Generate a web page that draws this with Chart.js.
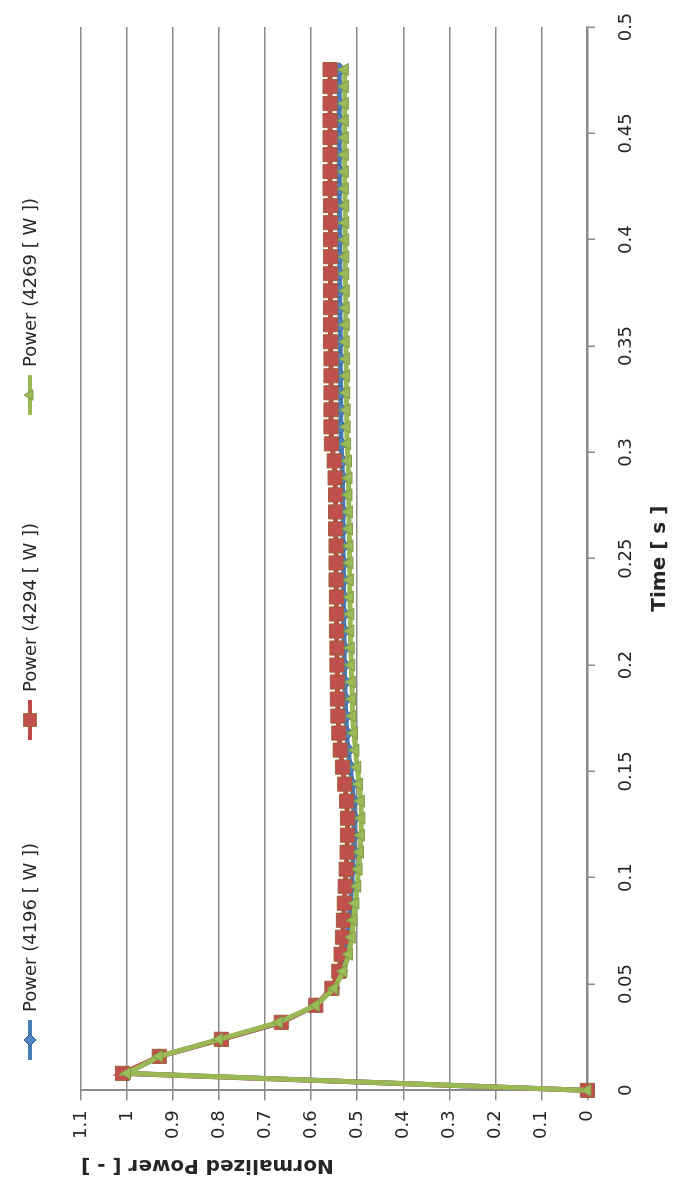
<!DOCTYPE html>
<html>
<head>
<meta charset="utf-8">
<script src="https://cdn.jsdelivr.net/npm/chart.js@4.4.1/dist/chart.umd.min.js"></script>
<style>
  html, body { margin: 0; padding: 0; background: #ffffff; overflow: hidden; }
  body { width: 680px; height: 1190px; position: relative; }
  #wrap {
    position: absolute; left: 0; top: 0;
    width: 1190px; height: 680px;
    transform-origin: 0 0;
    transform: translate(0px, 1190px) rotate(-90deg);
  }
  canvas { display: block; }
</style>
</head>
<body>
<div id="wrap"><canvas id="c" width="1190" height="680"></canvas></div>
<script>
// ---- data ----
const times = [0, 0.008, 0.016, 0.024, 0.032, 0.04, 0.048, 0.056, 0.064, 0.072,
  0.08, 0.088, 0.096, 0.104, 0.112, 0.12, 0.128, 0.136, 0.144, 0.152,
  0.16, 0.168, 0.176, 0.184, 0.192, 0.2, 0.208, 0.216, 0.224, 0.232,
  0.24, 0.248, 0.256, 0.264, 0.272, 0.28, 0.288, 0.296, 0.304, 0.312,
  0.32, 0.328, 0.336, 0.344, 0.352, 0.36, 0.368, 0.376, 0.384, 0.392,
  0.4, 0.408, 0.416, 0.424, 0.432, 0.44, 0.448, 0.456, 0.464, 0.472,
  0.48];

const power4196 = [0, 1.0, 0.93, 0.795, 0.665, 0.59, 0.553, 0.536, 0.527, 0.522,
  0.518, 0.515, 0.512, 0.51, 0.508, 0.507, 0.507, 0.508, 0.511, 0.515,
  0.52, 0.523, 0.525, 0.526, 0.527, 0.528, 0.528, 0.529, 0.529, 0.53,
  0.53, 0.53, 0.531, 0.531, 0.531, 0.532, 0.532, 0.533, 0.535, 0.536,
  0.536, 0.536, 0.537, 0.537, 0.537, 0.537, 0.538, 0.538, 0.538, 0.538,
  0.538, 0.538, 0.539, 0.539, 0.539, 0.539, 0.539, 0.539, 0.539, 0.539,
  0.539];

const power4294 = [0, 1.01, 0.93, 0.795, 0.665, 0.59, 0.555, 0.54, 0.535, 0.532,
  0.53, 0.528, 0.526, 0.524, 0.522, 0.521, 0.521, 0.523, 0.527, 0.532,
  0.537, 0.54, 0.542, 0.543, 0.543, 0.544, 0.544, 0.545, 0.545, 0.545,
  0.546, 0.546, 0.546, 0.547, 0.547, 0.547, 0.548, 0.55, 0.556, 0.557,
  0.557, 0.557, 0.557, 0.557, 0.558, 0.558, 0.558, 0.558, 0.558, 0.558,
  0.558, 0.558, 0.558, 0.559, 0.559, 0.559, 0.559, 0.559, 0.559, 0.559,
  0.559];

const power4269 = [0, 1.0, 0.93, 0.8, 0.67, 0.59, 0.55, 0.53, 0.518, 0.512,
  0.508, 0.504, 0.5, 0.497, 0.494, 0.492, 0.491, 0.492, 0.496, 0.5,
  0.504, 0.507, 0.51, 0.511, 0.512, 0.513, 0.514, 0.515, 0.515, 0.516,
  0.516, 0.517, 0.517, 0.518, 0.518, 0.519, 0.519, 0.52, 0.522, 0.523,
  0.523, 0.524, 0.524, 0.524, 0.525, 0.525, 0.525, 0.525, 0.526, 0.526,
  0.526, 0.526, 0.526, 0.527, 0.527, 0.527, 0.527, 0.527, 0.527, 0.527,
  0.527];

const seriesLabels = ['Power (4196 [ W ])', 'Power (4294 [ W ])', 'Power (4269 [ W ])'];
const xTitle = 'Time [ s ]';
const yTitle = 'Normalized Power [ - ]';

// ---- styling / layout ----
const FONT = '"DejaVu Sans", Verdana, sans-serif';
const TEXT = '#262626';
const GRID = '#8a8a8a';
const legendStarts = [130, 450, 775];
const legendY = 30;

function pts(vals) { return times.map((t, i) => ({ x: t, y: vals[i] })); }
function fmt(v) { return String(Math.round(v * 1000) / 1000); }

const legendPlugin = {
  id: 'excelLegend',
  afterDraw(chart) {
    const ctx = chart.ctx;
    chart.data.datasets.forEach((ds, i) => {
      const x0 = legendStarts[i];
      ctx.save();
      ctx.strokeStyle = ds.borderColor;
      ctx.lineWidth = 4;
      ctx.beginPath();
      ctx.moveTo(x0, legendY);
      ctx.lineTo(x0 + 40, legendY);
      ctx.stroke();
      ctx.fillStyle = ds.pointBackgroundColor;
      ctx.strokeStyle = ds.pointBorderColor;
      ctx.lineWidth = 1;
      Chart.helpers.drawPoint(ctx, { pointStyle: ds.pointStyle, radius: ds.pointRadius - 1, rotation: 0, borderWidth: 1 }, x0 + 20, legendY);
      ctx.fillStyle = TEXT;
      ctx.font = '18px ' + FONT;
      ctx.textBaseline = 'middle';
      ctx.textAlign = 'left';
      ctx.fillText(ds.label, x0 + 48, legendY + 1);
      ctx.restore();
    });
  }
};

new Chart(document.getElementById('c'), {
  type: 'line',
  data: {
    datasets: [
      { label: seriesLabels[0], data: pts(power4196), order: 3,
        borderColor: '#4A7EBB', borderWidth: 5,
        pointStyle: 'rectRot', pointRadius: 7,
        pointBackgroundColor: '#4F81BD', pointBorderColor: '#385D8A', pointBorderWidth: 1 },
      { label: seriesLabels[1], data: pts(power4294), order: 2,
        borderColor: '#BE4B48', borderWidth: 5,
        pointStyle: 'rect', pointRadius: 10,
        pointBackgroundColor: '#C0504D', pointBorderColor: '#A0603A', pointBorderWidth: 1 },
      { label: seriesLabels[2], data: pts(power4269), order: 1,
        borderColor: '#98B954', borderWidth: 5,
        pointStyle: 'triangle', pointRadius: 7,
        pointBackgroundColor: '#9BBB59', pointBorderColor: '#7F9A48', pointBorderWidth: 1 }
    ]
  },
  options: {
    responsive: false,
    animation: false,
    devicePixelRatio: 1,
    clip: false,
    layout: { padding: { top: 81, right: 27, bottom: 8, left: 5 } },
    plugins: { legend: { display: false }, tooltip: { enabled: false } },
    elements: { line: { tension: 0 } },
    scales: {
      x: {
        type: 'linear', min: 0, max: 0.5,
        ticks: { stepSize: 0.05, color: TEXT, font: { family: FONT, size: 18 }, padding: 0, maxRotation: 0, callback: fmt },
        grid: { drawOnChartArea: false, drawTicks: true, tickLength: 28, tickBorderDash: [7, 100], color: GRID, lineWidth: 1.5 },
        border: { color: GRID, width: 2 },
        title: { display: true, text: xTitle, color: TEXT, font: { family: FONT, size: 20, weight: 'bold' }, padding: { top: 11, bottom: 0 } }
      },
      y: {
        type: 'linear', min: 0, max: 1.1,
        ticks: { stepSize: 0.1, color: TEXT, font: { family: FONT, size: 18 }, padding: 10, callback: fmt },
        grid: { color: GRID, lineWidth: 1.5, tickLength: 10 },
        border: { color: GRID, width: 2 },
        title: { display: true, text: yTitle, align: 'end', color: TEXT, font: { family: FONT, size: 20, weight: 'bold' }, padding: { top: 8, bottom: 4 } }
      }
    }
  },
  plugins: [legendPlugin]
});
</script>
</body>
</html>
